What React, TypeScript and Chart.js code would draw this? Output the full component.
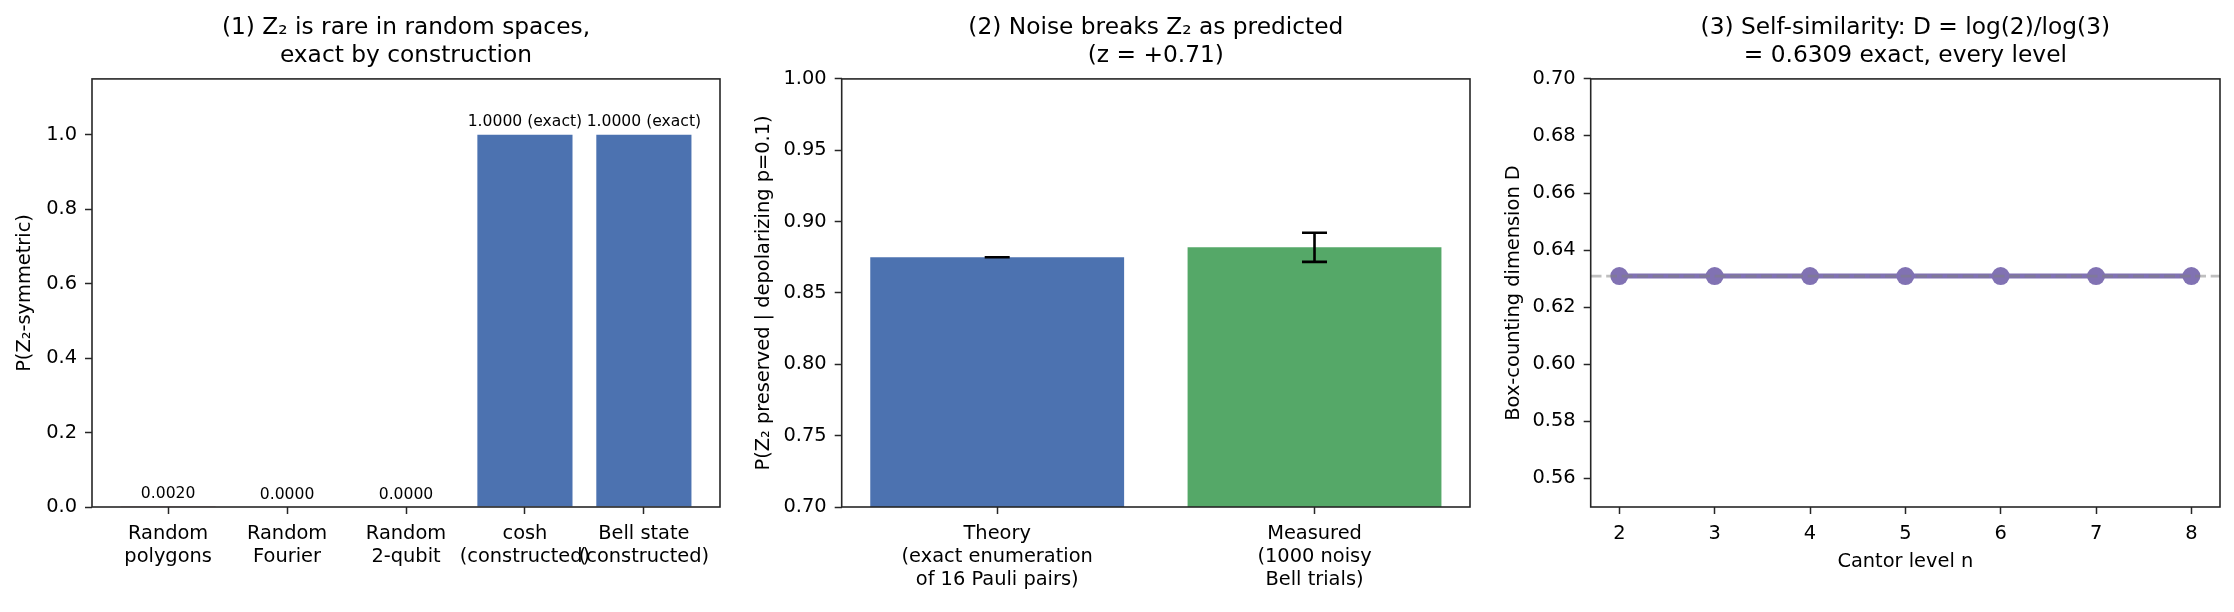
import React, { useEffect, useRef } from "react";
import { Chart, registerables } from "chart.js";

Chart.register(...registerables);

// ---------- data ----------
const p1Categories = [
  ["Random", "polygons"],
  ["Random", "Fourier"],
  ["Random", "2-qubit"],
  ["cosh", "(constructed)"],
  ["Bell state", "(constructed)"],
];
const p1Values = [0.002, 0.0, 0.0, 1.0, 1.0];
const p1Annotations = ["0.0020", "0.0000", "0.0000", "1.0000 (exact)", "1.0000 (exact)"];
const p1Colors = ["#c44e52", "#c44e52", "#c44e52", "#4c72b0", "#4c72b0"];

const p2Categories = [
  ["Theory", "(exact enumeration", "of 16 Pauli pairs)"],
  ["Measured", "(1000 noisy", "Bell trials)"],
];
const p2Values = [0.875, 0.882];
const p2Errors = [0.0, 0.0102];
const p2Colors = ["#4c72b0", "#55a868"];

const p3Levels = [2, 3, 4, 5, 6, 7, 8];
const p3Dimension = [0.6309, 0.6309, 0.6309, 0.6309, 0.6309, 0.6309, 0.6309];
const p3Exact = 0.6309;

const titles = [
  ["(1) Z₂ is rare in random spaces,", "exact by construction"],
  ["(2) Noise breaks Z₂ as predicted", "(z = +0.71)"],
  ["(3) Self-similarity: D = log(2)/log(3)", "= 0.6309 exact, every level"],
];
const yLabels = ["P(Z₂-symmetric)", "P(Z₂ preserved | depolarizing p=0.1)", "Box-counting dimension D"];
const xLabel3 = "Cantor level n";

// ---------- layout ----------
const W = 2234;
const H = 612;
const FONT = "'DejaVu Sans', 'Liberation Sans', sans-serif";
const BOTTOM = 507;
const YAXIS_W = 92;
const XAXIS_H = H - BOTTOM;
const areas = [
  { left: 92, right: 720 },
  { left: 841.7, right: 1470 },
  { left: 1590.7, right: 2220 },
];
const yTitleOffsets = [13.5, 2.7, 3.7];

const TICK_FONT = { family: FONT, size: 19.4, lineHeight: 1.2 };
const LABEL_FONT = { family: FONT, size: 19.4, lineHeight: 1.2 };
const TITLE_FONT = { family: FONT, size: 23.3, lineHeight: 1.2, weight: "normal" as const };
const SPINE = "#262626";

Chart.defaults.color = "#000";

const framePlugin = {
  id: "frame",
  afterDraw(chart: any) {
    const { ctx, chartArea: a } = chart;
    ctx.save();
    ctx.strokeStyle = SPINE;
    ctx.lineWidth = 1.6;
    ctx.strokeRect(a.left, a.top, a.right - a.left, a.bottom - a.top);
    ctx.restore();
  },
};

function baseOptions(idx: number, extra: any) {
  const a = areas[idx];
  return {
    responsive: false,
    animation: false,
    devicePixelRatio: 1,
    layout: {
      padding: { left: a.left - YAXIS_W, right: W - a.right, top: 0, bottom: 0 },
    },
    plugins: {
      legend: { display: false },
      tooltip: { enabled: false },
      title: {
        display: true,
        text: titles[idx],
        fullSize: false,
        font: TITLE_FONT,
        color: "#000",
        padding: { top: 14.4, bottom: 8.6 },
      },
    },
    ...extra,
  };
}

function gridOpts() {
  return {
    display: true,
    offset: false,
    drawOnChartArea: false,
    drawTicks: true,
    tickLength: 7,
    tickWidth: 1.5,
    color: SPINE,
    tickColor: SPINE,
  };
}

function yAxis(idx: number, min: number, max: number, step: number, digits: number) {
  return {
    type: "linear",
    min,
    max,
    border: { display: false },
    grid: gridOpts(),
    ticks: {
      stepSize: step,
      includeBounds: false,
      font: TICK_FONT,
      color: "#000",
      padding: 8,
      callback: (v: number) => Number(v).toFixed(digits),
    },
    title: {
      display: true,
      text: yLabels[idx],
      font: LABEL_FONT,
      color: "#000",
      padding: { top: yTitleOffsets[idx], bottom: 0 },
    },
    afterFit: (s: any) => {
      s.width = YAXIS_W;
    },
  };
}

function xAxis(min: number, max: number, labelFor: (v: number) => any, title?: string) {
  return {
    type: "linear",
    min,
    max,
    offset: false,
    border: { display: false },
    grid: gridOpts(),
    ticks: {
      stepSize: 1,
      includeBounds: false,
      autoSkip: false,
      maxRotation: 0,
      minRotation: 0,
      font: TICK_FONT,
      color: "#000",
      padding: 8,
      callback: (v: number) => labelFor(v),
    },
    title: title
      ? { display: true, text: title, font: LABEL_FONT, color: "#000", padding: { top: 0, bottom: 38.4 } }
      : { display: false },
    afterFit: (s: any) => {
      s.height = XAXIS_H;
    },
  };
}

const annotationPlugin = {
  id: "barAnnotations",
  afterDatasetsDraw(chart: any) {
    const { ctx } = chart;
    const xs = chart.scales.x;
    const ys = chart.scales.y;
    ctx.save();
    ctx.font = `15.6px ${FONT}`;
    ctx.fillStyle = "#000";
    ctx.textAlign = "center";
    ctx.textBaseline = "alphabetic";
    p1Values.forEach((v, i) => {
      ctx.fillText(p1Annotations[i], xs.getPixelForValue(i), ys.getPixelForValue(v) - 8.5);
    });
    ctx.restore();
  },
};

const errorBarPlugin = {
  id: "errorBars",
  afterDatasetsDraw(chart: any) {
    const { ctx } = chart;
    const xs = chart.scales.x;
    const ys = chart.scales.y;
    ctx.save();
    ctx.strokeStyle = "#000";
    ctx.lineWidth = 2.6;
    p2Values.forEach((v, i) => {
      const x = xs.getPixelForValue(i);
      const yt = ys.getPixelForValue(v + p2Errors[i]);
      const yb = ys.getPixelForValue(v - p2Errors[i]);
      ctx.beginPath();
      ctx.moveTo(x, yt);
      ctx.lineTo(x, yb);
      ctx.moveTo(x - 12.5, yt);
      ctx.lineTo(x + 12.5, yt);
      ctx.moveTo(x - 12.5, yb);
      ctx.lineTo(x + 12.5, yb);
      ctx.stroke();
    });
    ctx.restore();
  },
};

const refLinePlugin = {
  id: "refLine",
  afterDatasetsDraw(chart: any) {
    const { ctx, chartArea: a } = chart;
    const y = chart.scales.y.getPixelForValue(p3Exact);
    ctx.save();
    ctx.strokeStyle = "rgba(128,128,128,0.5)";
    ctx.lineWidth = 2.9;
    ctx.setLineDash([10.8, 4.7]);
    ctx.beginPath();
    ctx.moveTo(a.left, y);
    ctx.lineTo(a.right, y);
    ctx.stroke();
    ctx.restore();
  },
};

function config1(): any {
  return {
    type: "bar",
    data: {
      datasets: [
        {
          data: p1Values.map((v, i) => ({ x: i, y: v })),
          backgroundColor: p1Colors,
          borderWidth: 0,
          barPercentage: 0.8,
          categoryPercentage: 1.0,
        },
      ],
    },
    options: baseOptions(0, {
      scales: {
        x: xAxis(-0.64, 4.64, (v) => p1Categories[Math.round(v)] ?? ""),
        y: yAxis(0, 0, 1.15, 0.2, 1),
      },
    }),
    plugins: [annotationPlugin, framePlugin],
  };
}

function config2(): any {
  return {
    type: "bar",
    data: {
      datasets: [
        {
          data: p2Values.map((v, i) => ({ x: i, y: v })),
          backgroundColor: p2Colors,
          borderWidth: 0,
          barPercentage: 0.8,
          categoryPercentage: 1.0,
        },
      ],
    },
    options: baseOptions(1, {
      scales: {
        x: xAxis(-0.49, 1.49, (v) => p2Categories[Math.round(v)] ?? ""),
        y: yAxis(1, 0.7, 1.0, 0.05, 2),
      },
    }),
    plugins: [errorBarPlugin, framePlugin],
  };
}

function config3(): any {
  return {
    type: "line",
    data: {
      datasets: [
        {
          data: p3Levels.map((n, i) => ({ x: n, y: p3Dimension[i] })),
          borderColor: "#8172b3",
          backgroundColor: "#8172b3",
          borderWidth: 5,
          pointRadius: 9,
          pointBorderWidth: 0,
          pointBackgroundColor: "#8172b3",
          fill: false,
          tension: 0,
        },
      ],
    },
    options: baseOptions(2, {
      scales: {
        x: xAxis(1.7, 8.3, (v) => String(Math.round(v)), xLabel3),
        y: yAxis(2, 0.55, 0.7, 0.02, 2),
      },
    }),
    plugins: [refLinePlugin, framePlugin],
  };
}

function ChartCanvas({ make }: { make: () => any }) {
  const ref = useRef<HTMLCanvasElement | null>(null);
  useEffect(() => {
    if (!ref.current) return;
    const chart = new Chart(ref.current, make());
    return () => chart.destroy();
  }, [make]);
  return (
    <canvas
      ref={ref}
      width={W}
      height={H}
      style={{ position: "absolute", left: 0, top: 0, width: W, height: H }}
    />
  );
}

export default function App() {
  useEffect(() => {
    document.body.style.margin = "0";
    document.body.style.background = "#fff";
  }, []);
  return (
    <div style={{ position: "absolute", left: 0, top: 0, width: W, height: H, background: "#fff" }}>
      <ChartCanvas make={config1} />
      <ChartCanvas make={config2} />
      <ChartCanvas make={config3} />
    </div>
  );
}
